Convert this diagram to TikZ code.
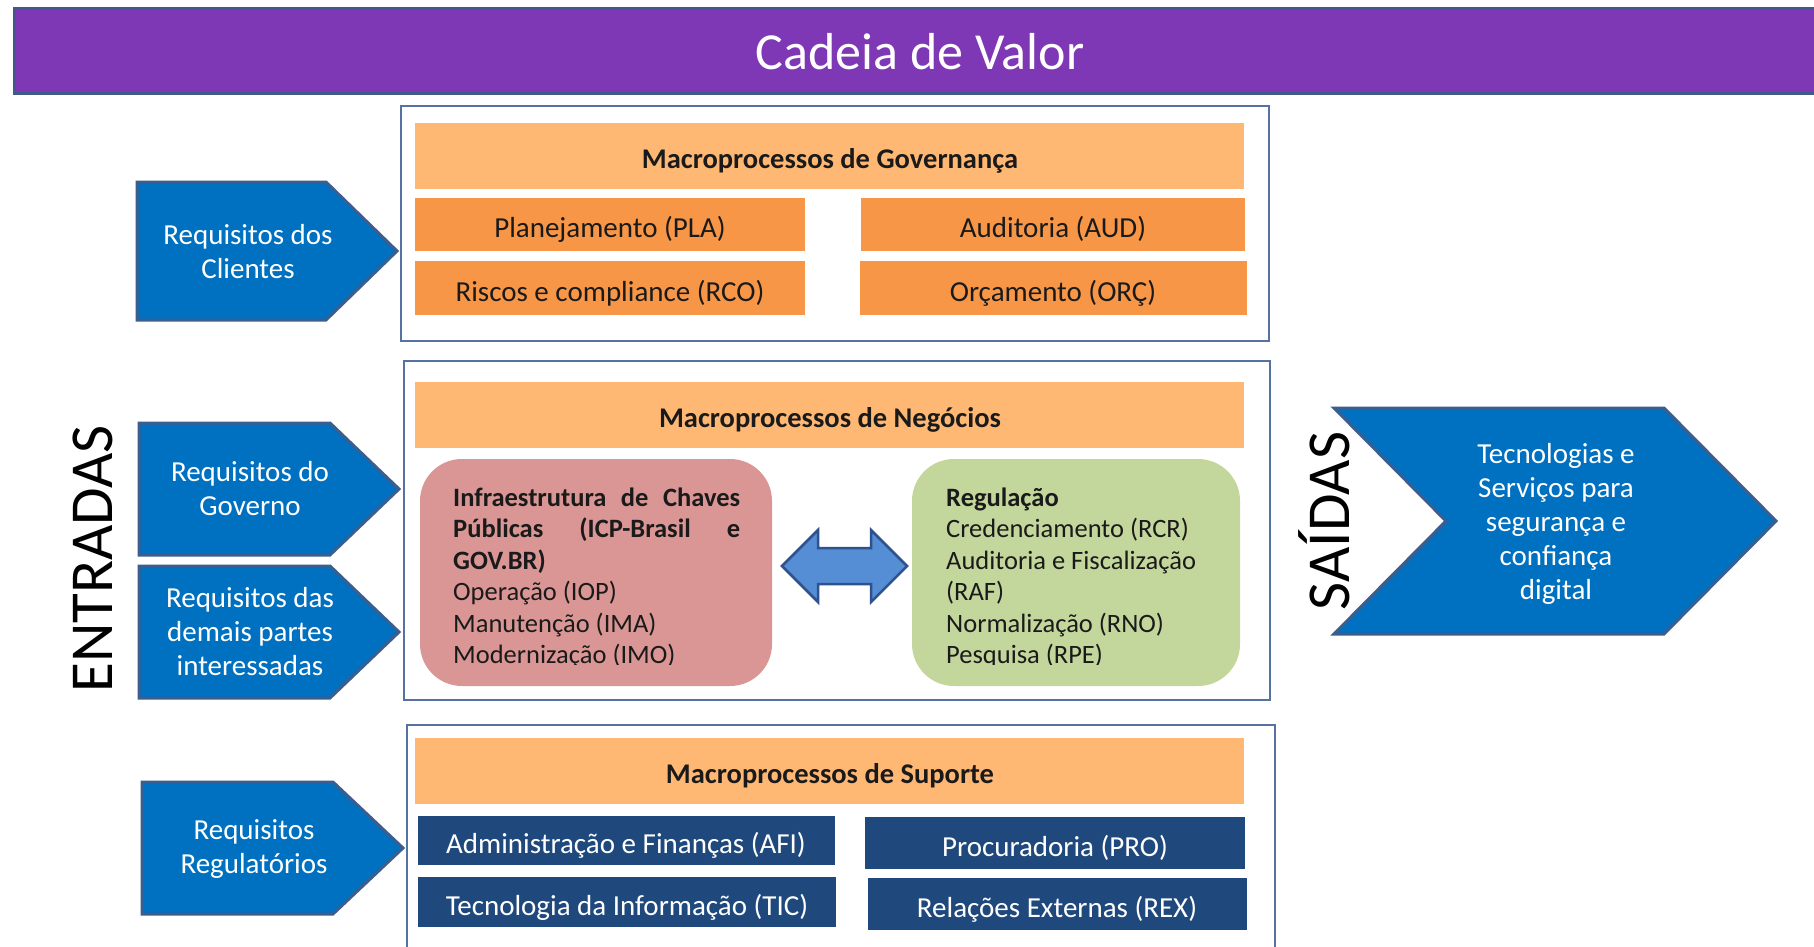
\documentclass[tikz,border=0pt]{standalone}
\usepackage{fontspec}
\setmainfont{Carlito}
\definecolor{titlefill}{HTML}{7F38B5}
\definecolor{titleline}{HTML}{43598A}
\definecolor{frameline}{HTML}{5672A3}
\definecolor{hdrfill}{HTML}{FFB874}
\definecolor{orgfill}{HTML}{F79646}
\definecolor{navyfill}{HTML}{1F497D}
\definecolor{redfill}{HTML}{D99694}
\definecolor{greenfill}{HTML}{C3D69B}
\definecolor{chevfill}{HTML}{0070C0}
\definecolor{chevline}{HTML}{3B5E8F}
\definecolor{dblfill}{HTML}{558ED5}
\definecolor{dblline}{HTML}{2F528F}
\definecolor{txtdark}{HTML}{1A1A1A}
\tikzset{
  frame/.style={draw=frameline, line width=1.8pt},
  hdrbox/.style={fill=hdrfill},
  orgbox/.style={fill=orgfill},
  navybox/.style={fill=navyfill},
  chev/.style={fill=chevfill, draw=chevline, line width=3pt, line join=miter},
  hdrtext/.style={font=\fontsize{28.5}{32}\selectfont\bfseries, text=txtdark, inner sep=0pt},
  orgtext/.style={font=\fontsize{29}{32}\selectfont, text=txtdark, inner sep=0pt},
  navytext/.style={font=\fontsize{29}{32}\selectfont, text=white, inner sep=0pt},
  chevtext/.style={font=\fontsize{29}{34}\selectfont, text=white, align=center, inner sep=0pt},
  listtext/.style={font=\fontsize{26.5}{31}\selectfont, text=txtdark, anchor=base west, inner sep=0pt},
  sidetext/.style={font=\fontsize{61}{64}\selectfont, text=black, rotate=90, inner sep=0pt}
}
\begin{document}
\begin{tikzpicture}[x=1pt,y=-1pt]
\useasboundingbox (0,0) rectangle (1814,947);
\fill[white] (0,0) rectangle (1814,947);

% title bar
\draw[fill=titlefill, draw=titleline, line width=3pt] (14,9) rectangle (1830,94);
\node[font=\fontsize{52}{56}\selectfont, text=white, inner sep=0pt] (title) at (920,52) {Cadeia de Valor};

% governance
\draw[frame] (401,106) rectangle (1269,341);
\fill[hdrbox] (415,123) rectangle (1244,189);
\node[hdrtext] (govh) at (830,161) {Macroprocessos de Governança};
\fill[orgbox] (415,198) rectangle (805,251);
\fill[orgbox] (861,198) rectangle (1245,251);
\fill[orgbox] (415,261) rectangle (805,315);
\fill[orgbox] (860,261) rectangle (1247,315);
\node[orgtext] (pla) at (610,229) {Planejamento (PLA)};
\node[orgtext] (aud) at (1053,229) {Auditoria (AUD)};
\node[orgtext] (rco) at (610,293) {Riscos e compliance (RCO)};
\node[orgtext] (orc) at (1053,293) {Orçamento (ORÇ)};

% business
\draw[frame] (404,361) rectangle (1270,700);
\fill[hdrbox] (415,382) rectangle (1244,448);
\node[hdrtext] (negh) at (830,420) {Macroprocessos de Negócios};
\fill[redfill, rounded corners=42pt] (420,459) rectangle (772,686);
\fill[greenfill, rounded corners=42pt] (912,459) rectangle (1240,686);
\begin{scope}
\clip (420,459) rectangle (1240,664);
\node[listtext] (r1) at (453,506) {\bfseries\hbox to 287pt{Infraestrutura\hfill de\hfill Chaves}};
\node[listtext] (r2) at (453,537) {\bfseries\hbox to 287pt{Públicas\hfill (ICP-Brasil\hfill e}};
\node[listtext] (r3) at (453,569) {\bfseries GOV.BR)};
\node[listtext] (r4) at (453,600) {Operação (IOP)};
\node[listtext] (r5) at (453,632) {Manutenção (IMA)};
\node[listtext] (r6) at (453,663) {Modernização (IMO)};
\node[listtext] (g1) at (946,506) {\bfseries Regulação};
\node[listtext] (g2) at (946,537) {Credenciamento (RCR)};
\node[listtext] (g3) at (946,569) {Auditoria e Fiscalização};
\node[listtext] (g4) at (946,600) {(RAF)};
\node[listtext] (g5) at (946,632) {Normalização (RNO)};
\node[listtext] (g6) at (946,663) {Pesquisa (RPE)};
\end{scope}
\draw[fill=dblfill, draw=dblline, line width=2.5pt, line join=miter]
  (782,566) -- (818,530) -- (818,548) -- (871,548) -- (871,530) -- (907,566)
  -- (871,602) -- (871,584) -- (818,584) -- (818,602) -- cycle;

% support
\draw[frame] (407,947) -- (407,725) -- (1275,725) -- (1275,947);
\fill[hdrbox] (415,738) rectangle (1244,804);
\node[hdrtext] (suph) at (830,776) {Macroprocessos de Suporte};
\fill[navybox] (418,816) rectangle (835,865);
\fill[navybox] (865,817) rectangle (1245,869);
\fill[navybox] (418,877) rectangle (836,927);
\fill[navybox] (868,878) rectangle (1247,930);
\node[navytext] (afi) at (626,845) {Administração e Finanças (AFI)};
\node[navytext] (pro) at (1055,848) {Procuradoria (PRO)};
\node[navytext] (tic) at (627,907) {Tecnologia da Informação (TIC)};
\node[navytext] (rex) at (1057,909) {Relações Externas (REX)};

% input chevrons
\draw[chev] (137,182) -- (326,182) -- (397,251) -- (326,320) -- (137,320) -- cycle;
\draw[chev] (139,423) -- (330,423) -- (399,489) -- (330,555) -- (139,555) -- cycle;
\draw[chev] (139,566) -- (330,566) -- (399,632) -- (330,698) -- (139,698) -- cycle;
\draw[chev] (142,782) -- (333,782) -- (403,848) -- (333,914) -- (142,914) -- cycle;
\node[chevtext] (cli) at (248,252) {Requisitos dos\\Clientes};
\node[chevtext] (gov) at (250,489) {Requisitos do\\Governo};
\node[chevtext] (dem) at (250,632) {Requisitos das\\demais partes\\interessadas};
\node[chevtext] (reg) at (254,849) {Requisitos\\Regulatórios};

% output chevron
\draw[chev] (1334,408) -- (1664,408) -- (1776,521) -- (1664,634) -- (1334,634) -- (1446,521) -- cycle;
\node[chevtext] (out) at (1556,524) {Tecnologias e\\Serviços para\\segurança e\\confiança\\digital};

\node[sidetext] (entr) at (93,559) {ENTRADAS};
\node[sidetext] (said) at (1324,521) {SAÍDAS};
\end{tikzpicture}
\end{document}
